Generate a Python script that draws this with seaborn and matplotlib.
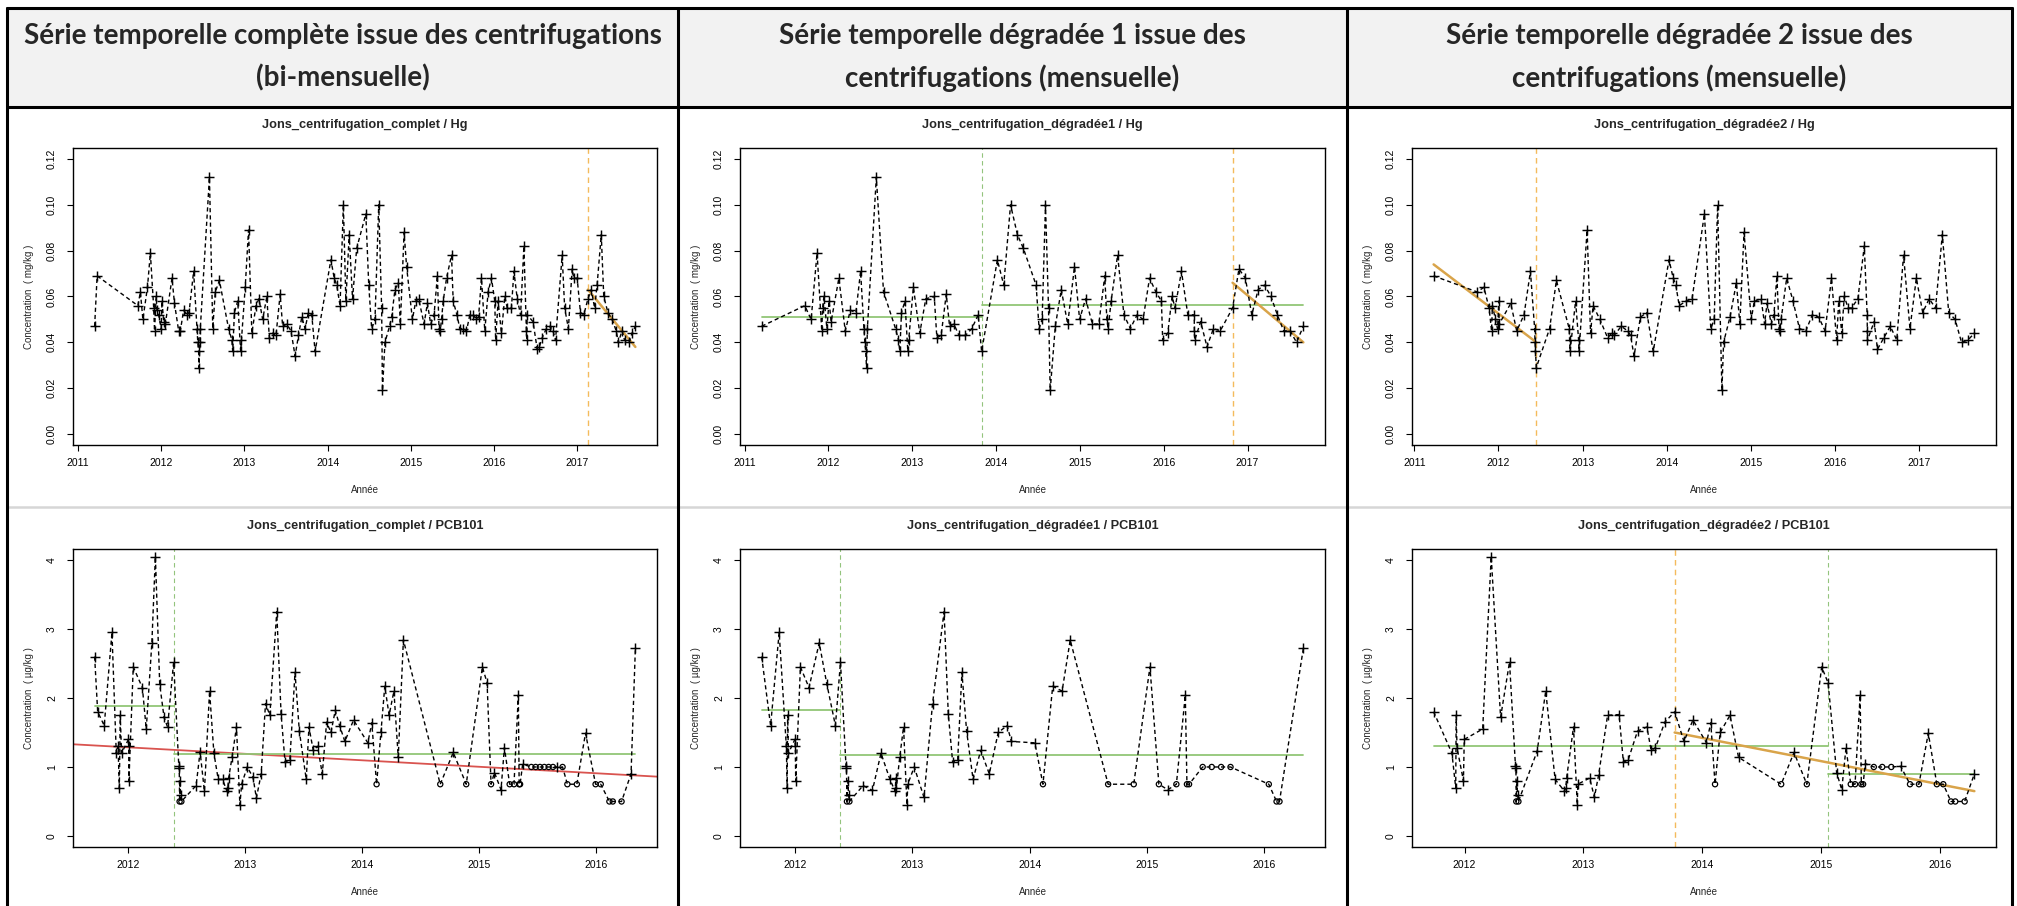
import matplotlib
matplotlib.use("Agg")

import matplotlib.pyplot as plt
import pandas as pd
import seaborn as sns
from matplotlib.lines import Line2D
from matplotlib.patches import Rectangle

W, H = 2017, 906

HEADERS = [
    "Série temporelle complète issue des centrifugations\n(bi-mensuelle)",
    "Série temporelle dégradée 1 issue des\ncentrifugations (mensuelle)",
    "Série temporelle dégradée 2 issue des\ncentrifugations (mensuelle)",
]

# --- Hg, série complète (bi-mensuelle) ---
HG_COMPLET_YEAR = [
    2011.20, 2011.23, 2011.72, 2011.75, 2011.78, 2011.835, 2011.87, 2011.91, 2011.92, 2011.94,
    2011.95, 2011.97, 2012.00, 2012.01, 2012.03, 2012.05, 2012.13, 2012.16, 2012.21, 2012.23,
    2012.27, 2012.31, 2012.335, 2012.39, 2012.43, 2012.44, 2012.45, 2012.455, 2012.465, 2012.47,
    2012.58, 2012.62, 2012.65, 2012.70, 2012.81, 2012.85, 2012.86, 2012.88, 2012.92, 2012.955,
    2012.965, 2013.01, 2013.05, 2013.09, 2013.14, 2013.175, 2013.22, 2013.27, 2013.30, 2013.34,
    2013.38, 2013.43, 2013.46, 2013.51, 2013.56, 2013.61, 2013.65, 2013.69, 2013.73, 2013.77,
    2013.81, 2013.85, 2014.04, 2014.08, 2014.11, 2014.15, 2014.19, 2014.22, 2014.26, 2014.30,
    2014.35, 2014.46, 2014.495, 2014.53, 2014.57, 2014.615, 2014.65, 2014.66, 2014.69, 2014.745,
    2014.77, 2014.81, 2014.85, 2014.875, 2014.92, 2014.95, 2015.02, 2015.06, 2015.095, 2015.16,
    2015.20, 2015.24, 2015.28, 2015.32, 2015.34, 2015.355, 2015.37, 2015.39, 2015.43, 2015.49,
    2015.51, 2015.555, 2015.59, 2015.63, 2015.67, 2015.71, 2015.75, 2015.79, 2015.815, 2015.85,
    2015.89, 2015.93, 2015.97, 2016.01, 2016.02, 2016.05, 2016.09, 2016.13, 2016.16, 2016.21,
    2016.24, 2016.28, 2016.32, 2016.36, 2016.39, 2016.395, 2016.40, 2016.47, 2016.52, 2016.545,
    2016.58, 2016.63, 2016.675, 2016.71, 2016.74, 2016.82, 2016.85, 2016.895, 2016.94, 2016.96,
    2017.00, 2017.04, 2017.08, 2017.13, 2017.17, 2017.21, 2017.24, 2017.29, 2017.32, 2017.37,
    2017.42, 2017.47, 2017.495, 2017.54, 2017.57, 2017.625, 2017.66, 2017.70,
]
HG_COMPLET_VAL = [
    0.047, 0.069, 0.056, 0.062, 0.050, 0.064, 0.079, 0.055, 0.045, 0.060,
    0.054, 0.052, 0.046, 0.058, 0.049, 0.048, 0.068, 0.057, 0.045, 0.045,
    0.054, 0.052, 0.053, 0.071, 0.046, 0.040, 0.036, 0.029, 0.040, 0.046,
    0.112, 0.046, 0.062, 0.067, 0.046, 0.041, 0.036, 0.053, 0.058, 0.036,
    0.041, 0.064, 0.089, 0.044, 0.056, 0.059, 0.050, 0.060, 0.042, 0.044,
    0.043, 0.061, 0.047, 0.048, 0.045, 0.034, 0.043, 0.051, 0.046, 0.053,
    0.052, 0.036, 0.076, 0.068, 0.065, 0.056, 0.100, 0.058, 0.087, 0.059,
    0.081, 0.096, 0.065, 0.046, 0.050, 0.100, 0.055, 0.019, 0.040, 0.047,
    0.051, 0.063, 0.066, 0.048, 0.088, 0.073, 0.050, 0.058, 0.059, 0.048,
    0.057, 0.048, 0.052, 0.069, 0.046, 0.045, 0.050, 0.058, 0.068, 0.078,
    0.058, 0.052, 0.046, 0.046, 0.045, 0.052, 0.052, 0.050, 0.051, 0.068,
    0.045, 0.062, 0.068, 0.058, 0.041, 0.058, 0.044, 0.060, 0.055, 0.055,
    0.071, 0.059, 0.052, 0.082, 0.045, 0.041, 0.052, 0.049, 0.037, 0.038,
    0.042, 0.046, 0.047, 0.045, 0.041, 0.078, 0.055, 0.046, 0.072, 0.068,
    0.068, 0.053, 0.052, 0.059, 0.063, 0.055, 0.065, 0.087, 0.060, 0.053,
    0.050, 0.045, 0.040, 0.045, 0.041, 0.040, 0.044, 0.047,
]
HG_COMPLET_TREND_BREAKS = [2017.13]
HG_COMPLET_TREND = [(2017.13, 0.063), (2017.70, 0.038)]

# --- Hg, série dégradée 1 (mensuelle) ---
HG_DEG1_YEAR = [
    2011.204, 2011.718, 2011.794, 2011.865, 2011.921, 2011.931, 2011.947, 2011.982, 2012.008, 2012.033,
    2012.125, 2012.201, 2012.262, 2012.328, 2012.384, 2012.424, 2012.435, 2012.445, 2012.455, 2012.465,
    2012.572, 2012.658, 2012.801, 2012.836, 2012.852, 2012.872, 2012.913, 2012.948, 2012.958, 2013.014,
    2013.090, 2013.162, 2013.263, 2013.294, 2013.345, 2013.406, 2013.446, 2013.497, 2013.558, 2013.635,
    2013.711, 2013.787, 2013.828, 2014.016, 2014.092, 2014.173, 2014.255, 2014.326, 2014.478, 2014.514,
    2014.550, 2014.590, 2014.626, 2014.646, 2014.707, 2014.778, 2014.855, 2014.936, 2014.997, 2015.068,
    2015.150, 2015.226, 2015.297, 2015.322, 2015.338, 2015.373, 2015.450, 2015.526, 2015.602, 2015.683,
    2015.754, 2015.831, 2015.907, 2015.973, 2015.988, 2016.049, 2016.100, 2016.136, 2016.212, 2016.288,
    2016.364, 2016.366, 2016.370, 2016.441, 2016.517, 2016.593, 2016.675, 2016.822, 2016.898, 2016.975,
    2017.051, 2017.127, 2017.203, 2017.280, 2017.356, 2017.432, 2017.508, 2017.585, 2017.666,
]
HG_DEG1_VAL = [
    0.047, 0.056, 0.050, 0.079, 0.045, 0.055, 0.060, 0.046, 0.058, 0.049,
    0.068, 0.045, 0.054, 0.053, 0.071, 0.046, 0.040, 0.036, 0.029, 0.046,
    0.112, 0.062, 0.046, 0.041, 0.036, 0.053, 0.058, 0.036, 0.041, 0.064,
    0.044, 0.059, 0.060, 0.042, 0.043, 0.061, 0.047, 0.048, 0.043, 0.043,
    0.046, 0.052, 0.036, 0.076, 0.065, 0.100, 0.087, 0.081, 0.065, 0.046,
    0.050, 0.100, 0.055, 0.019, 0.047, 0.063, 0.048, 0.073, 0.050, 0.059,
    0.048, 0.048, 0.069, 0.050, 0.046, 0.058, 0.078, 0.052, 0.046, 0.052,
    0.050, 0.068, 0.062, 0.058, 0.041, 0.044, 0.060, 0.055, 0.071, 0.052,
    0.052, 0.045, 0.041, 0.049, 0.038, 0.046, 0.045, 0.055, 0.072, 0.068,
    0.052, 0.063, 0.065, 0.060, 0.052, 0.045, 0.045, 0.040, 0.047,
]
HG_DEG1_MEANS = [(2011.204, 2013.828, 0.051), (2013.828, 2017.666, 0.0565)]
HG_DEG1_MEAN_BREAKS = [2013.828]
HG_DEG1_TREND_BREAKS = [2016.827]
HG_DEG1_TREND = [(2016.822, 0.066), (2017.666, 0.040)]

# --- Hg, série dégradée 2 (mensuelle) ---
HG_DEG2_YEAR = [
    2011.229, 2011.746, 2011.827, 2011.888, 2011.918, 2011.928, 2011.964, 2011.989, 2012.004, 2012.009,
    2012.146, 2012.217, 2012.304, 2012.380, 2012.430, 2012.435, 2012.440, 2012.450, 2012.608, 2012.689,
    2012.841, 2012.846, 2012.851, 2012.917, 2012.953, 2012.958, 2013.054, 2013.095, 2013.125, 2013.206,
    2013.298, 2013.348, 2013.374, 2013.460, 2013.536, 2013.571, 2013.612, 2013.688, 2013.764, 2013.840,
    2014.028, 2014.078, 2014.109, 2014.149, 2014.230, 2014.302, 2014.449, 2014.525, 2014.565, 2014.606,
    2014.657, 2014.677, 2014.753, 2014.829, 2014.870, 2014.920, 2015.006, 2015.042, 2015.123, 2015.164,
    2015.194, 2015.245, 2015.275, 2015.311, 2015.336, 2015.346, 2015.361, 2015.427, 2015.503, 2015.579,
    2015.655, 2015.732, 2015.808, 2015.884, 2015.960, 2016.021, 2016.046, 2016.082, 2016.112, 2016.158,
    2016.198, 2016.274, 2016.350, 2016.384, 2016.386, 2016.388, 2016.467, 2016.507, 2016.583, 2016.659,
    2016.736, 2016.817, 2016.893, 2016.969, 2017.045, 2017.121, 2017.197, 2017.278, 2017.354, 2017.430,
    2017.506, 2017.583, 2017.659,
]
HG_DEG2_VAL = [
    0.069, 0.062, 0.064, 0.055, 0.045, 0.056, 0.050, 0.046, 0.058, 0.048,
    0.057, 0.045, 0.052, 0.071, 0.046, 0.040, 0.036, 0.029, 0.046, 0.067,
    0.046, 0.041, 0.036, 0.058, 0.041, 0.036, 0.089, 0.044, 0.056, 0.050,
    0.042, 0.044, 0.043, 0.047, 0.045, 0.043, 0.034, 0.051, 0.053, 0.036,
    0.076, 0.068, 0.065, 0.056, 0.058, 0.059, 0.096, 0.046, 0.050, 0.100,
    0.019, 0.040, 0.051, 0.066, 0.048, 0.088, 0.050, 0.058, 0.059, 0.048,
    0.057, 0.048, 0.052, 0.069, 0.046, 0.045, 0.050, 0.068, 0.058, 0.046,
    0.045, 0.052, 0.051, 0.045, 0.068, 0.041, 0.058, 0.044, 0.060, 0.055,
    0.055, 0.059, 0.082, 0.052, 0.045, 0.041, 0.049, 0.037, 0.042, 0.047,
    0.041, 0.078, 0.046, 0.068, 0.053, 0.059, 0.055, 0.087, 0.053, 0.050,
    0.040, 0.041, 0.044,
]
HG_DEG2_TREND_BREAKS = [2012.451]
HG_DEG2_TREND = [(2011.229, 0.074), (2012.451, 0.040)]

# --- PCB101, série complète ('o' = valeur < LQ) ---
PCB_COMPLET_YEAR = [
    2011.715, 2011.741, 2011.797, 2011.863, 2011.900, 2011.915, 2011.926, 2011.934, 2011.945, 2012.004,
    2012.006, 2012.008, 2012.045, 2012.123, 2012.156, 2012.204, 2012.234, 2012.271, 2012.308, 2012.338,
    2012.390, 2012.434, 2012.438, 2012.441, 2012.445, 2012.449, 2012.456, 2012.582, 2012.616, 2012.653,
    2012.697, 2012.734, 2012.771, 2012.808, 2012.845, 2012.853, 2012.860, 2012.890, 2012.927, 2012.956,
    2012.971, 2013.019, 2013.068, 2013.097, 2013.138, 2013.175, 2013.212, 2013.271, 2013.308, 2013.342,
    2013.383, 2013.427, 2013.464, 2013.523, 2013.546, 2013.583, 2013.620, 2013.660, 2013.697, 2013.734,
    2013.771, 2013.808, 2013.853, 2013.927, 2014.049, 2014.083, 2014.124, 2014.161, 2014.194, 2014.231,
    2014.272, 2014.309, 2014.353, 2014.668, 2014.779, 2014.890, 2015.028, 2015.068, 2015.102, 2015.131,
    2015.187, 2015.216, 2015.261, 2015.298, 2015.335, 2015.342, 2015.350, 2015.372, 2015.446, 2015.483,
    2015.520, 2015.557, 2015.594, 2015.631, 2015.668, 2015.713, 2015.754, 2015.835, 2015.909, 2015.995,
    2016.039, 2016.113, 2016.142, 2016.217, 2016.298, 2016.335,
]
PCB_COMPLET_VAL = [
    2.60, 1.80, 1.60, 2.95, 1.20, 1.30, 0.70, 1.75, 1.20, 1.40,
    1.30, 0.80, 2.45, 2.15, 1.55, 2.80, 4.05, 2.20, 1.72, 1.58,
    2.52, 1.02, 0.98, 0.50, 0.80, 0.60, 0.50, 0.73, 1.22, 0.65,
    2.10, 1.20, 0.82, 0.82, 0.65, 0.70, 0.84, 1.15, 1.58, 0.45,
    0.75, 1.00, 0.85, 0.55, 0.90, 1.92, 1.75, 3.25, 1.77, 1.07,
    1.10, 2.37, 1.52, 0.82, 1.58, 1.24, 1.30, 0.90, 1.65, 1.50,
    1.82, 1.60, 1.37, 1.68, 1.35, 1.64, 0.75, 1.50, 2.17, 1.75,
    2.10, 1.14, 2.84, 0.75, 1.21, 0.75, 2.45, 2.22, 0.75, 0.92,
    0.67, 1.28, 0.75, 0.75, 2.04, 0.75, 0.75, 1.04, 1.00, 1.00,
    1.00, 1.00, 1.00, 1.00, 1.00, 1.00, 0.75, 0.75, 1.49, 0.75,
    0.75, 0.50, 0.50, 0.50, 0.90, 2.72,
]
PCB_COMPLET_MARK = list(
    "++++++++++"
    "++++++++++"
    "+++o++o+++"
    "++++++++++"
    "++++++++++"
    "++++++++++"
    "++++++o+++"
    "+++o+o++o+"
    "++oo+oo+oo"
    "oooo+ooo+o"
    "oooo++"
)
PCB_COMPLET_MEANS = [(2011.715, 2012.390, 1.88), (2012.390, 2016.335, 1.19)]
PCB_COMPLET_MEAN_BREAKS = [2012.390]
PCB_COMPLET_GLOBAL_TREND = (2014.0, 1.097, -0.094)  # point (x, y) and slope

# --- PCB101, série dégradée 1 ---
PCB_DEG1_YEAR = [
    2011.719, 2011.795, 2011.868, 2011.929, 2011.936, 2011.940, 2011.947, 2012.002, 2012.005, 2012.009,
    2012.049, 2012.122, 2012.209, 2012.274, 2012.347, 2012.390, 2012.437, 2012.441, 2012.445, 2012.452,
    2012.459, 2012.466, 2012.582, 2012.662, 2012.735, 2012.811, 2012.855, 2012.862, 2012.866, 2012.895,
    2012.927, 2012.956, 2012.963, 2013.018, 2013.101, 2013.174, 2013.272, 2013.308, 2013.345, 2013.388,
    2013.424, 2013.464, 2013.519, 2013.584, 2013.657, 2013.733, 2013.809, 2013.845, 2014.045, 2014.114,
    2014.197, 2014.277, 2014.346, 2014.669, 2014.887, 2015.025, 2015.101, 2015.177, 2015.250, 2015.326,
    2015.340, 2015.358, 2015.474, 2015.551, 2015.631, 2015.711, 2016.037, 2016.103, 2016.128, 2016.331,
]
PCB_DEG1_VAL = [
    2.60, 1.60, 2.95, 1.30, 0.70, 1.75, 1.20, 1.40, 1.30, 0.80,
    2.45, 2.15, 2.80, 2.20, 1.60, 2.52, 1.02, 0.98, 0.50, 0.80,
    0.60, 0.50, 0.73, 0.66, 1.20, 0.82, 0.65, 0.84, 0.70, 1.15,
    1.58, 0.45, 0.75, 1.00, 0.56, 1.92, 3.25, 1.77, 1.07, 1.10,
    2.37, 1.52, 0.82, 1.24, 0.90, 1.50, 1.60, 1.37, 1.35, 0.75,
    2.17, 2.10, 2.84, 0.75, 0.75, 2.45, 0.75, 0.67, 0.75, 2.04,
    0.75, 0.75, 1.00, 1.00, 1.00, 1.00, 0.75, 0.50, 0.50, 2.72,
]
PCB_DEG1_MARK = list(
    "++++++++++"
    "++++++++o+"
    "+o++++++++"
    "++++++++++"
    "+++++++++o"
    "+++oo+o+o+"
    "ooooooooo+"
)
PCB_DEG1_MEANS = [(2011.719, 2012.390, 1.83), (2012.390, 2016.331, 1.17)]
PCB_DEG1_MEAN_BREAKS = [2012.390]

# --- PCB101, série dégradée 2 ---
PCB_DEG2_YEAR = [
    2011.739, 2011.893, 2011.925, 2011.929, 2011.936, 2011.990, 2011.997, 2012.152, 2012.224, 2012.303,
    2012.378, 2012.428, 2012.432, 2012.435, 2012.439, 2012.446, 2012.453, 2012.611, 2012.683, 2012.762,
    2012.841, 2012.852, 2012.859, 2012.917, 2012.949, 2012.953, 2013.053, 2013.093, 2013.129, 2013.204,
    2013.301, 2013.337, 2013.377, 2013.456, 2013.535, 2013.571, 2013.607, 2013.686, 2013.769, 2013.847,
    2013.923, 2014.037, 2014.073, 2014.109, 2014.152, 2014.235, 2014.307, 2014.666, 2014.774, 2014.882,
    2015.007, 2015.061, 2015.133, 2015.176, 2015.212, 2015.252, 2015.288, 2015.331, 2015.341, 2015.356,
    2015.374, 2015.446, 2015.517, 2015.593, 2015.672, 2015.751, 2015.826, 2015.905, 2015.977, 2016.031,
    2016.096, 2016.132, 2016.211, 2016.293,
]
PCB_DEG2_VAL = [
    1.80, 1.20, 0.70, 1.75, 1.28, 0.80, 1.40, 1.55, 4.05, 1.72,
    2.52, 1.02, 0.98, 0.50, 0.80, 0.60, 0.50, 1.23, 2.10, 0.82,
    0.65, 0.70, 0.84, 1.58, 0.45, 0.75, 0.84, 0.56, 0.89, 1.75,
    1.76, 1.07, 1.10, 1.52, 1.58, 1.24, 1.28, 1.65, 1.80, 1.37,
    1.68, 1.35, 1.64, 0.75, 1.50, 1.75, 1.14, 0.75, 1.21, 0.75,
    2.45, 2.22, 0.92, 0.67, 1.28, 0.75, 0.75, 2.04, 0.75, 0.75,
    1.05, 1.00, 1.00, 1.00, 1.01, 0.75, 0.75, 1.49, 0.75, 0.75,
    0.50, 0.50, 0.50, 0.90,
]
PCB_DEG2_MARK = list(
    "++++++++++"
    "+++o++o+++"
    "++++++++++"
    "++++++++++"
    "+++o+++o+o"
    "+++++oo+oo"
    "+ooo+oo+oo"
    "ooo+"
)
PCB_DEG2_MEANS = [(2011.739, 2015.061, 1.30), (2015.061, 2016.293, 0.90)]
PCB_DEG2_MEAN_BREAKS = [2015.061]
PCB_DEG2_TREND_BREAKS = [2013.769]
PCB_DEG2_TREND = [(2013.769, 1.50), (2016.293, 0.65)]

HG_YTICKS = [0.00, 0.02, 0.04, 0.06, 0.08, 0.10, 0.12]
PCB_YTICKS = [0, 1, 2, 3, 4]
HG_XTICKS = [2011, 2012, 2013, 2014, 2015, 2016, 2017]
PCB_XTICKS = [2012, 2013, 2014, 2015, 2016]

GREEN = "#92c676"
GREEN_DASH = "#93c47d"
ORANGE = "#f4bb5c"
TREND_ORANGE = "#d9a44a"
RED = "#d9534f"

# pixel boxes of the R plot regions
COLS = [(73, 657), (740, 1325), (1412, 1996)]
ROWS = [(148, 445), (549, 847)]


def r_range(lo, hi):
    pad = 0.04 * (hi - lo)
    return lo - pad, hi + pad


def px_axes(fig, left, top, right, bottom):
    return fig.add_axes([left / W, 1 - bottom / H, (right - left) / W, (bottom - top) / H])


def draw_panel(ax, spec):
    years, vals = spec["years"], spec["vals"]
    marks = spec.get("marks") or ["+"] * len(years)
    if not (len(years) == len(vals) == len(marks)):
        raise ValueError(f"{spec['title']}: {len(years)} years, {len(vals)} values, {len(marks)} marks")
    df = pd.DataFrame({"year": years, "val": vals, "mark": marks})

    sns.lineplot(data=df, x="year", y="val", ax=ax, sort=False, estimator=None,
                 color="black", lw=1.0, linestyle=(0, (3, 2.2)), zorder=2)
    quant = df[df["mark"] == "+"]
    cens = df[df["mark"] == "o"]
    sns.scatterplot(data=quant, x="year", y="val", ax=ax, marker="+", s=55,
                    color="black", linewidth=1.05, zorder=3)
    if len(cens):
        sns.scatterplot(data=cens, x="year", y="val", ax=ax, marker="o", s=14,
                        facecolor="none", edgecolor="black", linewidth=0.9, zorder=3)

    for x in spec.get("mean_breaks", []):
        ax.axvline(x, color=GREEN_DASH, lw=0.8, linestyle=(0, (4, 3)), zorder=1)
    for x in spec.get("trend_breaks", []):
        ax.axvline(x, color=ORANGE, lw=1.0, linestyle=(0, (4, 3)), zorder=1)
    for x0, x1, lvl in spec.get("means", []):
        ax.plot([x0, x1], [lvl, lvl], color=GREEN, lw=1.3, zorder=1.5)
    if spec.get("trend"):
        (x0, y0), (x1, y1) = spec["trend"]
        ax.plot([x0, x1], [y0, y1], color=TREND_ORANGE, lw=1.8, zorder=1.6)
    if spec.get("global_trend"):
        gx, gy, slope = spec["global_trend"]
        ax.axline((gx, gy), slope=slope, color=RED, lw=1.3, zorder=1.4)

    ax.set_xlim(*r_range(min(years), max(years)))
    ax.set_ylim(*r_range(*spec["yrange"]))
    ax.set_xticks(spec["xticks"])
    ax.set_xticklabels([str(t) for t in spec["xticks"]])
    ax.set_yticks(spec["yticks"])
    ax.set_yticklabels([spec["yfmt"].format(t) for t in spec["yticks"]], va="center")

    ax.tick_params(axis="both", direction="out", length=4.5, width=0.8, labelsize=7.5,
                   colors="black")
    ax.tick_params(axis="x", pad=5)
    ax.tick_params(axis="y", pad=7, labelrotation=90)
    for s in ax.spines.values():
        s.set_visible(True)
        s.set_color("black")
        s.set_linewidth(1.0)

    height_px = ROWS[spec["row"]][1] - ROWS[spec["row"]][0]
    width_px = COLS[spec["col"]][1] - COLS[spec["col"]][0]
    ax.set_xlabel("Année", fontsize=7)
    ax.xaxis.set_label_coords(0.5, -45 / height_px)
    ax.xaxis.label.set_va("center")
    ax.set_ylabel(spec["ylabel"], fontsize=7)
    ax.yaxis.set_label_coords(-44 / width_px, 0.5)
    ax.yaxis.label.set_va("center")
    ax.set_title(spec["title"], fontsize=9.2, fontweight="bold", y=1 + 23 / height_px,
                 va="center", pad=0)


def main() -> None:
    sns.set_theme(style="ticks")
    plt.rcParams["font.family"] = ["Liberation Sans", "DejaVu Sans"]

    fig = plt.figure(figsize=(W / 100, H / 100), dpi=100)
    fig.patch.set_facecolor("white")

    # table frame
    x_left, x_div1, x_div2, x_right = 7, 678, 1347, 2012
    y_top, y_head, y_row = 8, 107, 507
    fig.add_artist(Rectangle((x_left / W, 1 - y_head / H), (x_right - x_left) / W, (y_head - y_top) / H,
                             transform=fig.transFigure, facecolor="#f2f2f2", edgecolor="none", zorder=0))

    def hline(y, x0, x1, color="black", lw=2.2):
        fig.add_artist(Line2D([x0 / W, x1 / W], [1 - y / H, 1 - y / H], transform=fig.transFigure,
                              color=color, lw=lw, zorder=5))

    def vline(x, y0, y1, color="black", lw=2.2):
        fig.add_artist(Line2D([x / W, x / W], [1 - y0 / H, 1 - y1 / H], transform=fig.transFigure,
                              color=color, lw=lw, zorder=5))

    hline(y_top, x_left, x_right)
    hline(y_head, x_left, x_right)
    hline(y_row, x_left, x_right, color="#d6d6d6", lw=1.8)
    for x in (x_left, x_div1, x_div2, x_right):
        vline(x, y_top, H)

    centers = [(x_left + x_div1) / 2, (x_div1 + x_div2) / 2, (x_div2 + x_right) / 2]
    for cx, text in zip(centers, HEADERS):
        line1, line2 = text.split("\n")
        fig.text(cx / W, 1 - 36 / H, line1, ha="center", va="center", fontsize=20,
                 fontweight="bold", family=["Lato", "DejaVu Sans"])
        fig.text(cx / W, 1 - 78 / H, line2, ha="center", va="center", fontsize=20,
                 fontweight="bold", family=["Lato", "DejaVu Sans"])

    hg = dict(row=0, yrange=(0, 0.12), yticks=HG_YTICKS, yfmt="{:.2f}", xticks=HG_XTICKS,
              ylabel="Concentration  ( mg/kg )")
    pcb = dict(row=1, yrange=(0, 4), yticks=PCB_YTICKS, yfmt="{:.0f}", xticks=PCB_XTICKS,
               ylabel="Concentration  ( µg/kg )")

    panels = [
        dict(hg, col=0, title="Jons_centrifugation_complet / Hg",
             years=HG_COMPLET_YEAR, vals=HG_COMPLET_VAL,
             trend_breaks=HG_COMPLET_TREND_BREAKS, trend=HG_COMPLET_TREND),
        dict(hg, col=1, title="Jons_centrifugation_dégradée1 / Hg",
             years=HG_DEG1_YEAR, vals=HG_DEG1_VAL, means=HG_DEG1_MEANS,
             mean_breaks=HG_DEG1_MEAN_BREAKS, trend_breaks=HG_DEG1_TREND_BREAKS, trend=HG_DEG1_TREND),
        dict(hg, col=2, title="Jons_centrifugation_dégradée2 / Hg",
             years=HG_DEG2_YEAR, vals=HG_DEG2_VAL,
             trend_breaks=HG_DEG2_TREND_BREAKS, trend=HG_DEG2_TREND),
        dict(pcb, col=0, title="Jons_centrifugation_complet / PCB101",
             years=PCB_COMPLET_YEAR, vals=PCB_COMPLET_VAL, marks=PCB_COMPLET_MARK,
             means=PCB_COMPLET_MEANS, mean_breaks=PCB_COMPLET_MEAN_BREAKS,
             global_trend=PCB_COMPLET_GLOBAL_TREND),
        dict(pcb, col=1, title="Jons_centrifugation_dégradée1 / PCB101",
             years=PCB_DEG1_YEAR, vals=PCB_DEG1_VAL, marks=PCB_DEG1_MARK,
             means=PCB_DEG1_MEANS, mean_breaks=PCB_DEG1_MEAN_BREAKS),
        dict(pcb, col=2, title="Jons_centrifugation_dégradée2 / PCB101",
             years=PCB_DEG2_YEAR, vals=PCB_DEG2_VAL, marks=PCB_DEG2_MARK,
             means=PCB_DEG2_MEANS, mean_breaks=PCB_DEG2_MEAN_BREAKS,
             trend_breaks=PCB_DEG2_TREND_BREAKS, trend=PCB_DEG2_TREND),
    ]

    for spec in panels:
        (l, r), (t, b) = COLS[spec["col"]], ROWS[spec["row"]]
        ax = px_axes(fig, l, t, r, b)
        ax.set_facecolor("white")
        draw_panel(ax, spec)

    fig.savefig("out.png", dpi=100, facecolor="white")


if __name__ == "__main__":
    main()
